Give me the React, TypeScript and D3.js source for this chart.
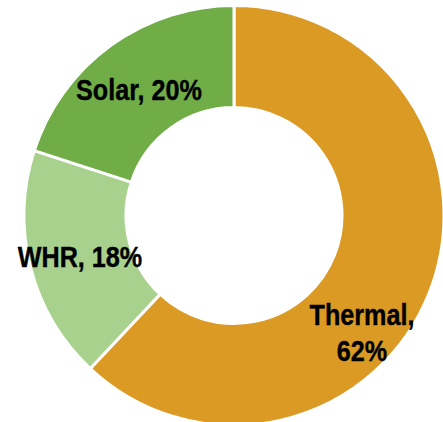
import React from "react";
import * as d3 from "d3";

const categories = ["Thermal", "WHR", "Solar"];
const values = [62, 18, 20];
const colors = ["#DA9A24", "#A9D18E", "#70AD47"];
const labelLines = [["Thermal,", "62%"], ["WHR, 18%"], ["Solar, 20%"]];

const W = 443;
const H = 422;
const cx = 234;
const cy = 215.5;
const outerR = 210;
const innerR = 108;
const labelPos: [number, number][] = [
  [362, 325],
  [80, 267],
  [139, 99.5],
];

export default function App() {
  const pie = d3.pie<number>().sort(null).startAngle(0).endAngle(2 * Math.PI);
  const arcs = pie(values);
  const arcGen = d3.arc<d3.PieArcDatum<number>>().innerRadius(innerR).outerRadius(outerR);
  return (
    <svg
      width={W}
      height={H}
      style={{ position: "absolute", left: 0, top: 0, display: "block" }}
    >
      <rect width={W} height={H} fill="#fff" />
      <g transform={`translate(${cx},${cy})`}>
        {arcs.map((a, i) => (
          <path key={categories[i]} d={arcGen(a) || ""} fill={colors[i]} stroke="#fff" strokeWidth={3} />
        ))}
      </g>
      {labelLines.map((lines, i) => (
        <g key={categories[i]} transform={`translate(${labelPos[i][0]},${labelPos[i][1]}) scale(0.84,1)`}>
          <text
            x={0}
            y={0}
            textAnchor="middle"
            fontFamily="'Liberation Sans', Arial, sans-serif"
            fontWeight="bold"
            fontSize={30}
            fill="#000"
            stroke="#000"
            strokeWidth={0.4}
          >
            {lines.map((l, j) => (
              <tspan key={j} x={0} dy={j === 0 ? 0 : 36}>
                {l}
              </tspan>
            ))}
          </text>
        </g>
      ))}
    </svg>
  );
}
